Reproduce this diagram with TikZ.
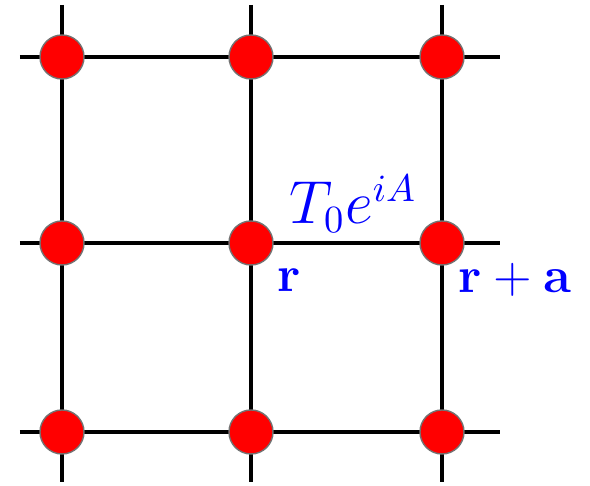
\documentclass[tikz,border=0pt]{standalone}
\usetikzlibrary{backgrounds}
\begin{document}
\begin{tikzpicture}[
        x=0.01cm, y=-0.01cm,
        site/.style={circle, fill=red, draw=black!55, line width=0.4pt, minimum size=0.44cm, inner sep=0pt},
        bond/.style={line width=1.3pt, black},
        lbl/.style={blue, font=\Large}
    ]
    \useasboundingbox (0,0) rectangle (590,486);
    % lattice sites
    \foreach \c/\x in {1/62, 2/251, 3/442}
        \foreach \r/\y in {1/57, 2/243, 3/432}
            \node[site] (s\c\r) at (\x,\y) {};
    % free ends of the bonds
    \foreach \c/\x in {1/62, 2/251, 3/442} {
        \coordinate (top\c) at (\x,5);
        \coordinate (bot\c) at (\x,482);
    }
    \foreach \r/\y in {1/57, 2/243, 3/432} {
        \coordinate (left\r) at (20,\y);
        \coordinate (right\r) at (500,\y);
    }
    \begin{scope}[on background layer]
        \foreach \i in {1,2,3} {
            \draw[bond] (top\i) -- (s\i1.center) -- (s\i2.center) -- (s\i3.center) -- (bot\i);
            \draw[bond] (left\i) -- (s1\i.center) -- (s2\i.center) -- (s3\i.center) -- (right\i);
        }
    \end{scope}
    % labels
    \node[lbl, font=\fontsize{16}{19}\selectfont] (hop) at (353,204) {$T_0e^{iA}$};
    \node[lbl] (r) at (289,280) {$\mathbf{r}$};
    \node[lbl] (ra) at (515,280) {$\mathbf{r}+\mathbf{a}$};
\end{tikzpicture}
\end{document}
